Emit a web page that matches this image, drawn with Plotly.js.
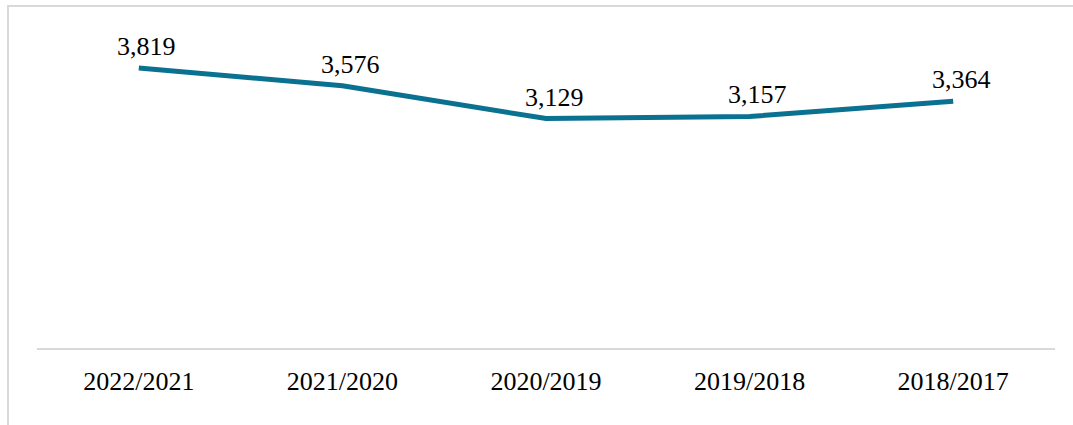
<!DOCTYPE html>
<html>
<head>
<meta charset="utf-8">
<script src="https://cdn.plot.ly/plotly-3.0.1.min.js"></script>
<style>
html,body{margin:0;padding:0;background:#fff;overflow:hidden;}
#frame{position:absolute;left:7px;top:5px;width:1200px;height:600px;border:2px solid #d9d9d9;box-sizing:border-box;}
#chart{position:absolute;left:0;top:0;width:1073px;height:425px;}
</style>
</head>
<body>
<div id="frame"></div>
<div id="chart"></div>
<script>
const categories = ["2022/2021", "2021/2020", "2020/2019", "2019/2018", "2018/2017"];
const values = [3819, 3576, 3129, 3157, 3364];
const valueLabels = ["3,819", "3,576", "3,129", "3,157", "3,364"];

const font = {family: "'Liberation Serif', 'Times New Roman', serif", size: 26, color: "#000"};

const trace = {
  x: categories,
  y: values,
  type: "scatter",
  mode: "lines",
  line: {color: "#0a7190", width: 5},
  hoverinfo: "skip"
};

const annotations = categories.map((c, i) => ({
  x: c, y: values[i], text: valueLabels[i],
  showarrow: false, xanchor: "center", yanchor: "bottom",
  xshift: 8, yshift: 5, font: font
}));

const layout = {
  width: 1073, height: 425,
  margin: {l: 37, r: 18, t: 18, b: 77},
  paper_bgcolor: "rgba(0,0,0,0)",
  plot_bgcolor: "rgba(0,0,0,0)",
  showlegend: false,
  xaxis: {
    type: "category", range: [-0.5, 4.5],
    showline: true, linecolor: "#d9d9d9", linewidth: 2,
    showgrid: false, zeroline: false, ticks: "",
    tickfont: font, ticklabelstandoff: 9
  },
  yaxis: {
    range: [0, 4500], visible: false, showgrid: false, zeroline: false
  },
  annotations: annotations
};

Plotly.newPlot("chart", [trace], layout, {displayModeBar: false, staticPlot: true});
</script>
</body>
</html>
